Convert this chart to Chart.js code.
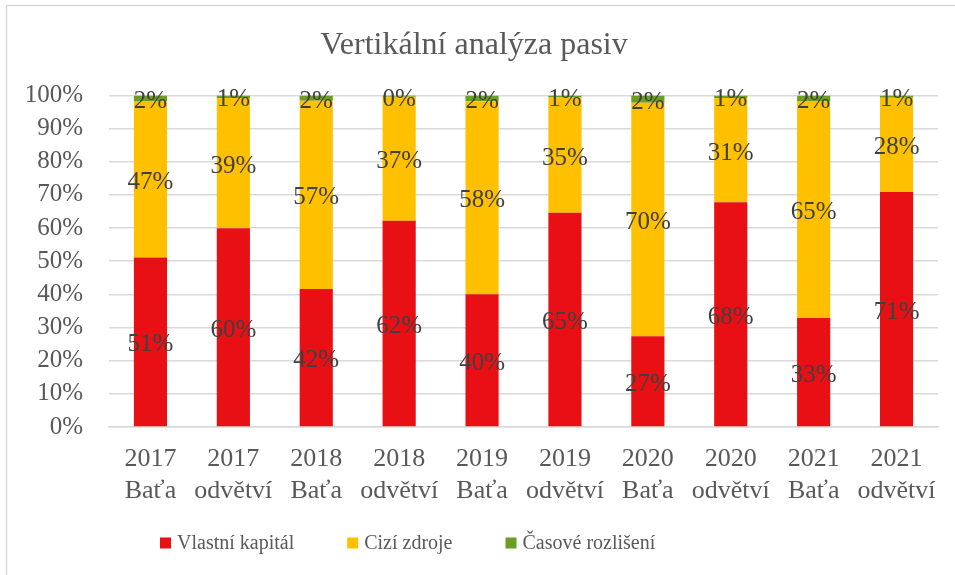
<!DOCTYPE html>
<html>
<head>
<meta charset="utf-8">
<script src="https://cdn.jsdelivr.net/npm/chart.js@4/dist/chart.umd.min.js"></script>
<style>
  body { margin: 0; background: #fff; }
  #wrap { width: 955px; height: 575px; }
</style>
</head>
<body>
<div id="wrap"><canvas id="myChart" width="955" height="575"></canvas></div>
<script>
const labels = [
  ['2017', 'Baťa'], ['2017', 'odvětví'],
  ['2018', 'Baťa'], ['2018', 'odvětví'],
  ['2019', 'Baťa'], ['2019', 'odvětví'],
  ['2020', 'Baťa'], ['2020', 'odvětví'],
  ['2021', 'Baťa'], ['2021', 'odvětví']
];
const vlastniKapital = [51.1, 59.9, 41.6, 62.2, 40.0, 64.6, 27.4, 67.8, 32.9, 70.9];
const ciziZdroje = [47.2, 39.3, 56.8, 37.4, 58.2, 34.8, 70.4, 31.4, 65.4, 28.4];
const casoveRozliseni = [1.7, 0.8, 1.6, 0.4, 1.8, 0.6, 2.2, 0.8, 1.7, 0.7];
const yTicks = [0, 10, 20, 30, 40, 50, 60, 70, 80, 90, 100];

const FONT = "'Liberation Serif', 'Times New Roman', serif";
const TEXT = '#595959';

// value labels centred in each segment, like excel
const segLabels = {
  id: 'segLabels',
  afterDatasetsDraw(chart) {
    const ctx = chart.ctx;
    ctx.save();
    ctx.font = '25px ' + FONT;
    ctx.fillStyle = '#404040';
    ctx.textAlign = 'center';
    ctx.textBaseline = 'middle';
    chart.data.datasets.forEach((ds, i) => {
      const meta = chart.getDatasetMeta(i);
      meta.data.forEach((bar, j) => {
        const p = bar.getProps(['x', 'y', 'base'], true);
        ctx.fillText(Math.round(ds.data[j]) + '%', p.x, (p.y + p.base) / 2 + 3);
      });
    });
    ctx.restore();
  }
};

// legend drawn by hand so it can sit left of centre like the excel one
const bottomLegend = {
  id: 'bottomLegend',
  afterDraw(chart) {
    const ctx = chart.ctx;
    const y = 543, box = 11, gap = 6, between = 53;
    ctx.save();
    ctx.font = '20px ' + FONT;
    ctx.textBaseline = 'middle';
    let x = 160;
    chart.data.datasets.forEach(ds => {
      ctx.fillStyle = ds.backgroundColor;
      ctx.fillRect(x, y - box / 2, box, box);
      x += box + gap;
      ctx.fillStyle = TEXT;
      ctx.fillText(ds.label, x, y + 1);
      x += ctx.measureText(ds.label).width + between;
    });
    ctx.restore();
  }
};

const frame = {
  id: 'frame',
  afterDraw(chart) {
    const ctx = chart.ctx;
    ctx.save();
    ctx.strokeStyle = '#d9d9d9';
    ctx.lineWidth = 1.5;
    ctx.beginPath();
    ctx.moveTo(6.5, chart.height);
    ctx.lineTo(6.5, 5.5);
    ctx.lineTo(chart.width, 5.5);
    ctx.stroke();
    ctx.restore();
  }
};

const data = {
  labels: labels,
  datasets: [
    { label: 'Vlastní kapitál', data: vlastniKapital, backgroundColor: '#e81014' },
    { label: 'Cizí zdroje', data: ciziZdroje, backgroundColor: '#ffc000' },
    { label: 'Časové rozlišení', data: casoveRozliseni, backgroundColor: '#6b9e25' }
  ]
};

const config = {
  type: 'bar',
  data: data,
  options: {
    responsive: false,
    animation: false,
    layout: { padding: { left: 10, right: 17, top: 0, bottom: 68 } },
    datasets: { bar: { categoryPercentage: 1, barPercentage: 0.4 } },
    plugins: {
      title: {
        display: true,
        text: 'Vertikální analýza pasiv',
        color: TEXT,
        font: { family: FONT, size: 32, weight: 'normal' },
        padding: { top: 26, bottom: 31 }
      },
      legend: { display: false },
      tooltip: { enabled: false }
    },
    scales: {
      x: {
        stacked: true,
        afterFit(s) { s.height = 80; },
        grid: { display: false },
        border: { color: '#d9d9d9', width: 1.5 },
        ticks: { color: TEXT, font: { family: FONT, size: 26, lineHeight: 1.2 }, maxRotation: 0, autoSkip: false, padding: 9 }
      },
      y: {
        stacked: true,
        min: 0, max: 100,
        afterFit(s) { s.width = 99; },
        afterBuildTicks(s) { s.ticks = yTicks.map(v => ({ value: v })); },
        grid: { color: '#d9d9d9', lineWidth: 1.5, drawTicks: false },
        border: { display: false },
        ticks: { color: TEXT, font: { family: FONT, size: 25 }, padding: 26, autoSkip: false, callback: v => v + '%' }
      }
    }
  },
  plugins: [segLabels, bottomLegend, frame]
};

const myChart = new Chart(document.getElementById('myChart'), config);
</script>
</body>
</html>
